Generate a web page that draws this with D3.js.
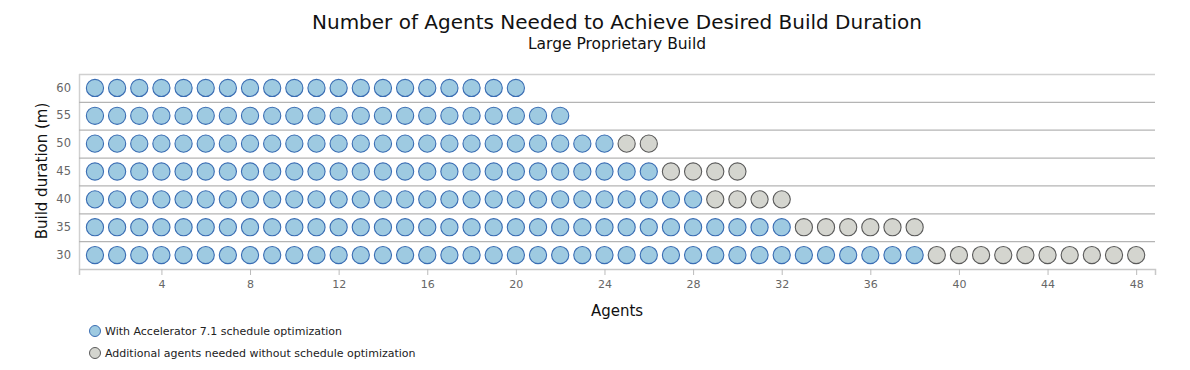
<!DOCTYPE html>
<html><head><meta charset="utf-8">
<script src="https://cdn.jsdelivr.net/npm/d3@7"></script>
<style>body{margin:0;background:#fff;font-family:"DejaVu Sans",sans-serif;}</style>
</head><body><svg id="c" width="1190" height="370"></svg>
<script>
const durations = [60, 55, 50, 45, 40, 35, 30];
const withOptimization = [20, 22, 24, 26, 28, 32, 38];
const withoutOptimization = [20, 22, 26, 30, 32, 38, 48];
const xTicks = [4, 8, 12, 16, 20, 24, 28, 32, 36, 40, 44, 48];
const seriesNames = ["With Accelerator 7.1 schedule optimization", "Additional agents needed without schedule optimization"];

const svg = d3.select("#c");
const m = {l: 79, r: 1155, t: 74, b: 269};
const x = d3.scaleLinear().domain([0.28, 48.85]).range([m.l, m.r]);
const y = d3.scaleBand().domain(durations).range([m.t, m.b]);
const fills = ["#9ecae1", "#d4d5cf"], strokes = ["#3a6db3", "#5a5a5a"];

svg.append("text").attr("x", 617).attr("y", 29).attr("text-anchor", "middle")
  .attr("font-size", 20).attr("fill", "#111").text("Number of Agents Needed to Achieve Desired Build Duration");
svg.append("text").attr("x", 617).attr("y", 49).attr("text-anchor", "middle")
  .attr("font-size", 15.5).attr("fill", "#111").text("Large Proprietary Build");

// frame
svg.append("line").attr("x1", m.l).attr("x2", m.r).attr("y1", m.t + 0.5).attr("y2", m.t + 0.5).attr("stroke", "#d0d0d0").attr("stroke-width", 1.5);
svg.append("line").attr("x1", m.l + 0.5).attr("x2", m.l + 0.5).attr("y1", m.t).attr("y2", m.b).attr("stroke", "#d0d0d0").attr("stroke-width", 1.5);
durations.slice(1).forEach(d => {
  svg.append("line").attr("x1", m.l).attr("x2", m.r).attr("y1", y(d) + 0.5).attr("y2", y(d) + 0.5).attr("stroke", "#b4b4b4").attr("stroke-width", 1.3);
});

// axes
const xa = svg.append("g").attr("transform", `translate(0,${m.b})`)
  .call(d3.axisBottom(x).tickValues(xTicks).tickSize(6).tickPadding(5));
xa.select(".domain").attr("stroke", "#c8c8c8").attr("stroke-width", 1.5);
xa.selectAll(".tick line").attr("stroke", "#bbb");
xa.selectAll("text").attr("fill", "#666").attr("font-size", 11).attr("font-family", "DejaVu Sans");

const ya = svg.append("g").attr("transform", `translate(${m.l},0)`)
  .call(d3.axisLeft(y).tickSize(0).tickPadding(8));
ya.select(".domain").remove();
ya.selectAll("text").attr("fill", "#666").attr("font-size", 11.5).attr("font-family", "DejaVu Sans");

svg.append("text").attr("x", 617).attr("y", 316).attr("text-anchor", "middle").attr("font-size", 15).attr("fill", "#111").text("Agents");
svg.append("text").attr("transform", "translate(47,171) rotate(-90)").attr("text-anchor", "middle").attr("font-size", 15).attr("fill", "#111").text("Build duration (m)");

// dots
const pts = [];
durations.forEach((d, i) => {
  for (let a = 1; a <= withoutOptimization[i]; a++) pts.push({d, a, s: a <= withOptimization[i] ? 0 : 1});
});
svg.append("g").selectAll("circle").data(pts).join("circle")
  .attr("cx", p => x(p.a)).attr("cy", p => y(p.d) + y.bandwidth() / 2).attr("r", 8.6)
  .attr("fill", p => fills[p.s]).attr("stroke", p => strokes[p.s]).attr("stroke-width", 1.1);

// legend
seriesNames.forEach((n, i) => {
  const ly = 331 + i * 22;
  svg.append("circle").attr("cx", 95).attr("cy", ly).attr("r", 5.5).attr("fill", fills[i]).attr("stroke", strokes[i]).attr("stroke-width", 1);
  svg.append("text").attr("x", 105).attr("y", ly + 4).attr("font-size", 11).attr("fill", "#222").text(n);
});
</script></body></html>
